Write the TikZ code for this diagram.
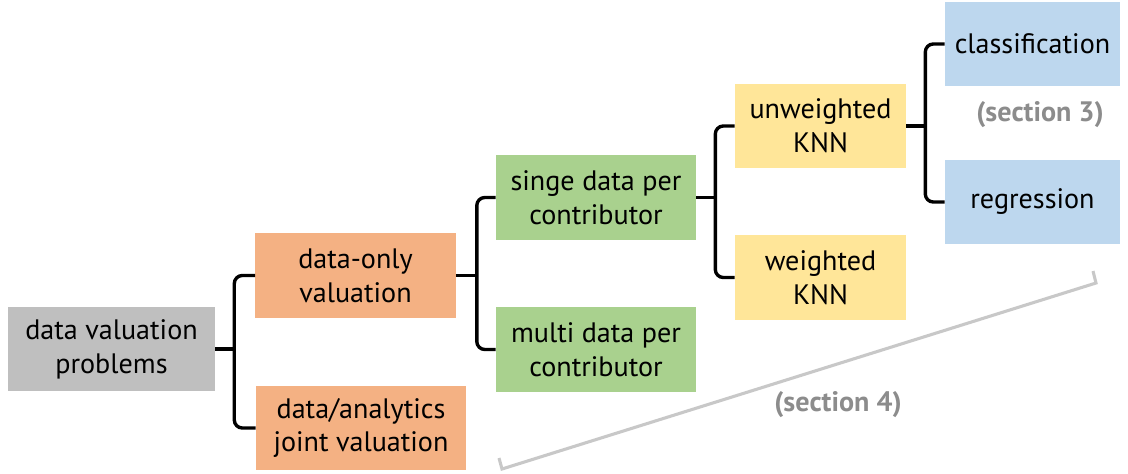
\documentclass[tikz,border=0pt]{standalone}
\usepackage{fontspec}
\setmainfont{PT Sans}
\usetikzlibrary{calc}

\definecolor{boxgray}{RGB}{191,191,191}
\definecolor{boxorange}{RGB}{244,177,131}
\definecolor{boxgreen}{RGB}{169,209,142}
\definecolor{boxyellow}{RGB}{255,230,153}
\definecolor{boxblue}{RGB}{189,215,238}
\definecolor{secgray}{RGB}{140,140,140}
\definecolor{secline}{RGB}{200,200,200}

\begin{document}
\begin{tikzpicture}[x=0.025cm,y=-0.025cm,
  box/.style={inner sep=0pt, align=center, text=black,
    font=\fontsize{20}{24}\selectfont, minimum height=2.12cm},
  brace/.style={line width=2.4pt, rounded corners=0.2cm},
  sec/.style={text=secgray, font=\fontsize{20}{24}\selectfont\bfseries}]
\useasboundingbox (0,0) rectangle (1128,473);
% boxes
\node[box, fill=boxgray, minimum width=5.175cm] (dvp) at (111.5,349) {data valuation\\problems};
\node[box, fill=boxorange, minimum width=5cm] (donly) at (355.5,275.5) {data-only\\valuation};
\node[box, fill=boxorange, minimum width=5.25cm] (joint) at (361,428) {data/analytics\\joint valuation};
\node[box, fill=boxgreen, minimum width=5cm] (single) at (596,197.5) {singe data per\\contributor};
\node[box, fill=boxgreen, minimum width=5cm] (multi) at (596,349.5) {multi data per\\contributor};
\node[box, fill=boxyellow, minimum width=4.275cm] (unw) at (820.5,126) {unweighted\\KNN};
\node[box, fill=boxyellow, minimum width=4.275cm] (wtd) at (820.5,277.5) {weighted\\KNN};
\node[box, fill=boxblue, minimum width=4.375cm] (cls) at (1032.5,44) {classification};
\node[box, fill=boxblue, minimum width=4.375cm] (reg) at (1032.5,202) {regression};
% braces
\draw[brace] (dvp.east) -- ++(19,0) coordinate (b1);
\draw[brace] (donly.west) -| (b1) |- (joint.west);
\draw[brace] (donly.east) -- ++(21,0) coordinate (b2);
\draw[brace] (single.west) -| (b2) |- (multi.west);
\draw[brace] (single.east) -- ++(19,0) coordinate (b3);
\draw[brace] (unw.west) -| (b3) |- (wtd.west);
\draw[brace] (unw.east) -- ++(19,0) coordinate (b4);
\draw[brace] (cls.west) -| (b4) |- (reg.west);
% sections
\node[sec] (s3) at (1040,115) {(section 3)};
\coordinate (s4a) at (502,469);
\coordinate (s4b) at (1096,283);
\draw[secline, line width=2.2pt] ($(s4a)+(-3,-11)$) -- (s4a) -- (s4b) -- ($(s4b)+(-3,-12)$);
\node[sec] (s4) at (838,405) {(section 4)};
\end{tikzpicture}
\end{document}
